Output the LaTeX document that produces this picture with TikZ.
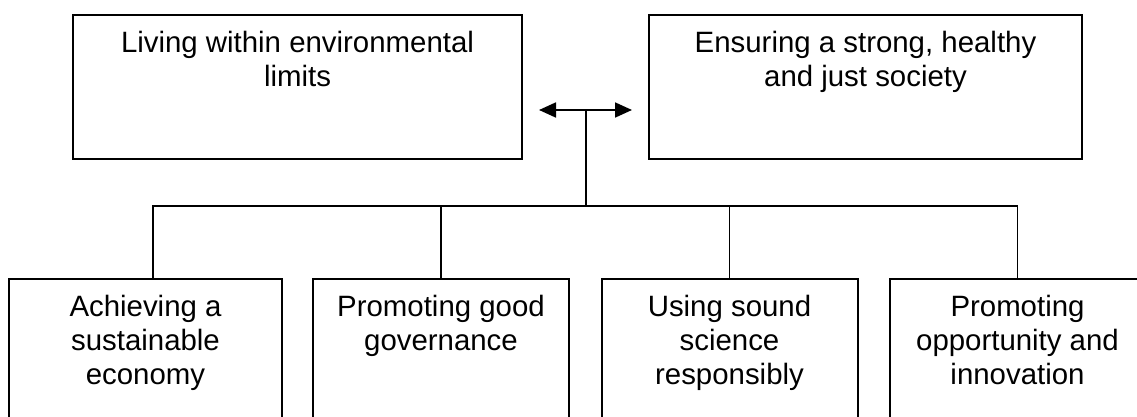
\documentclass[tikz,border=0pt]{standalone}
\usepackage{fontspec}
\setmainfont{Liberation Sans}
\usepackage{tikz}
\usetikzlibrary{arrows.meta,positioning,calc}

\tikzset{
     box/.style = {draw, line width=1pt, anchor=north, inner sep=0pt},
     lbl/.style = {anchor=north, inner sep=0pt, yshift=-8.5pt, align=center,
                   font=\fontsize{14.7}{17}\selectfont},
     link/.style = {line width=0.9pt},
     tip/.style = {{Triangle[length=8.5pt,width=7.5pt]}-{Triangle[length=8.5pt,width=7.5pt]}}
}

\begin{document}
\begin{tikzpicture} [x=0.5pt, y=-0.5pt]
     \useasboundingbox (0,0) rectangle (1137,417);
     \node [box, minimum width=224.5pt, minimum height=72pt,
            label={[lbl]north:Living within environmental\\limits}] (env) at (297.5,14) {};
     \node [box, minimum width=216.5pt, minimum height=72pt,
            label={[lbl]north:Ensuring a strong, healthy\\and just society}] (soc) at (865.5,14) {};

     \node [box, minimum width=136.5pt, minimum height=80pt,
            label={[lbl]north:Achieving a\\sustainable\\economy}] (eco) at (145.5,278) {};
     \node [box, minimum width=128pt, minimum height=80pt,
            label={[lbl]north:Promoting good\\governance}] (gov) at (441,278) {};
     \node [box, minimum width=128pt, minimum height=80pt,
            label={[lbl]north:Using sound\\science\\responsibly}] (sci) at (729.5,278) {};
     \node [box, minimum width=128pt, minimum height=80pt,
            label={[lbl]north:Promoting\\opportunity and\\innovation}] (inno) at (1017.5,278) {};

     \coordinate (hub) at (586,110);
     \coordinate (bus) at (586,206);
     \draw [link, tip] ([xshift=8pt]env.east |- hub) -- ([xshift=-8pt]soc.west |- hub);
     \draw [link] (hub) -- (bus);
     \draw [link] ([xshift=3.75pt]eco.north) |- (inno.north |- bus) -- (inno.north);
     \draw [link] (gov.north) -- (gov.north |- bus);
     \draw [link] (sci.north) -- (sci.north |- bus);
\end{tikzpicture}
\end{document}
